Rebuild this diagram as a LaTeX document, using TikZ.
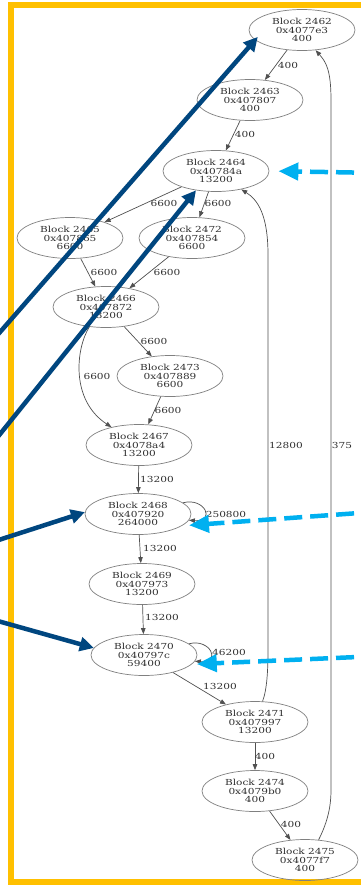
\documentclass[tikz,border=0pt]{standalone}
\usepackage{fontspec}
\newfontfamily\gvfont[FakeStretch=1.27]{DejaVu Serif}
\usetikzlibrary{shapes.geometric,arrows.meta}
\definecolor{frameorange}{HTML}{FFC000}
\definecolor{darkblue}{HTML}{00467F}
\definecolor{lightblue}{HTML}{00B0F0}
\definecolor{edgegray}{HTML}{505050}
\definecolor{nodegray}{HTML}{808080}
\definecolor{textgray}{HTML}{303030}
\tikzset{
  block/.style={ellipse, draw=nodegray, line width=0.7pt, minimum width=106pt,
    minimum height=41pt, inner sep=0pt, align=center, text=textgray,
    font=\gvfont\fontsize{8.3}{8.5}\selectfont},
  edge/.style={draw=edgegray, line width=0.7pt, -{Triangle[length=6pt,width=4.5pt]}},
  lbl/.style={text=textgray, inner sep=0pt, font=\gvfont\fontsize{8.3}{8.5}\selectfont},
  pointer/.style={draw=darkblue, line width=4.5pt, -{Triangle[length=14pt,width=14pt]}},
  hint/.style={draw=lightblue, line width=4.5pt, dash pattern=on 18pt off 8pt,
    -{Triangle[length=20pt,width=17pt]}},
}
\begin{document}
\begin{tikzpicture}[x=1pt,y=-1pt]
\useasboundingbox (0,0) rectangle (361,886);
\clip (0,0) rectangle (361,886);
\fill[white] (0,0) rectangle (361,886);
\draw[frameorange, line width=6pt] (11,5) rectangle (400,881.5);

% nodes
\node[block] (n2462) at (302,30)  {Block 2462\\0x4077e3\\400};
\node[block] (n2463) at (250,100) {Block 2463\\0x407807\\400};
\node[block] (n2464) at (216,171) {Block 2464\\0x40784a\\13200};
\node[block] (n2465) at (70,238)  {Block 2465\\0x407865\\6600};
\node[block] (n2472) at (192,238) {Block 2472\\0x407854\\6600};
\node[block] (n2466) at (106,307) {Block 2466\\0x407872\\13200};
\node[block] (n2473) at (170,376) {Block 2473\\0x407889\\6600};
\node[block] (n2467) at (139,445) {Block 2467\\0x4078a4\\13200};
\node[block] (n2468) at (138,514) {Block 2468\\0x407920\\264000};
\node[block] (n2469) at (142,584) {Block 2469\\0x407973\\13200};
\node[block] (n2470) at (144,655) {Block 2470\\0x40797c\\59400};
\node[block] (n2471) at (255,722) {Block 2471\\0x407997\\13200};
\node[block] (n2474) at (255,791) {Block 2474\\0x4079b0\\400};
\node[block] (n2475) at (305,860) {Block 2475\\0x4077f7\\400};

% edges
\draw[edge] (n2462) -- (n2463) node[lbl, at={(288,65)}] {400};
\draw[edge] (n2463) -- (n2464) node[lbl, at={(245,134)}] {400};
\draw[edge] (n2464) -- (n2465) node[lbl, at={(164,203)}] {6600};
\draw[edge] (n2464) -- (n2472) node[lbl, at={(218,203)}] {6600};
\draw[edge] (n2465) -- (n2466) node[lbl, at={(104,272)}] {6600};
\draw[edge] (n2472) -- (n2466) node[lbl, at={(167,272)}] {6600};
\draw[edge] (n2466) -- (n2473) node[lbl, at={(154,341)}] {6600};
\draw[edge] (n2466.-130) .. controls (76,348) and (70,400) .. (n2467.147)
  node[lbl, at={(97,376)}] {6600};
\draw[edge] (n2473) -- (n2467) node[lbl, at={(168,410)}] {6600};
\draw[edge] (n2467) -- (n2468) node[lbl, at={(157,479)}] {13200};
\draw[edge] (n2468.14) .. controls (205,497) and (216,522) .. (n2468.-7)
  node[lbl, at={(226,514)}] {250800};
\draw[edge] (n2468) -- (n2469) node[lbl, at={(160,548)}] {13200};
\draw[edge] (n2469) -- (n2470) node[lbl, at={(162,617)}] {13200};
\draw[edge] (n2470.14) .. controls (210,638) and (222,663) .. (n2470.-7)
  node[lbl, at={(229,652)}] {46200};
\draw[edge] (n2470) -- (n2471) node[lbl, at={(220,686)}] {13200};
\draw[edge] (n2471) -- (n2474) node[lbl, at={(265,756)}] {400};
\draw[edge] (n2474) -- (n2475) node[lbl, at={(291,824)}] {400};
\draw[edge] (n2471.70) .. controls (267,690) and (268,670) .. (268,650) -- (268,255)
  .. controls (268,215) and (258,200) .. (n2464.-36)
  node[lbl, at={(286,445)}] {12800};
\draw[edge] (n2475.56) .. controls (326,825) and (331,810) .. (331,790) -- (331,100)
  .. controls (331,70) and (326,62) .. (n2462.-56)
  node[lbl, at={(342,445)}] {375};

% dark blue pointers from the left
\coordinate (p1) at (-20,355);
\coordinate (p2) at (-20,459);
\coordinate (p3) at (-20,546);
\coordinate (p4) at (-20,616);
\draw[pointer, shorten >=-4pt] (p1) -- (n2462.-168);
\draw[pointer] (p2) -- (n2464.-136);
\draw[pointer] (p3) -- (n2468.178);
\draw[pointer] (p4) -- (n2470.172);

% light blue dashed hints from the right
\coordinate (q1) at (380,173);
\coordinate (q2) at (380,511.5);
\coordinate (q3) at (380,656);
\draw[hint, shorten >=9pt] (q1) -- (n2464.east);
\draw[hint, shorten >=7pt] (q2) -- (n2468.-15);
\draw[hint, shorten >=5pt] (q3) -- (n2470.-11);
\end{tikzpicture}
\end{document}
